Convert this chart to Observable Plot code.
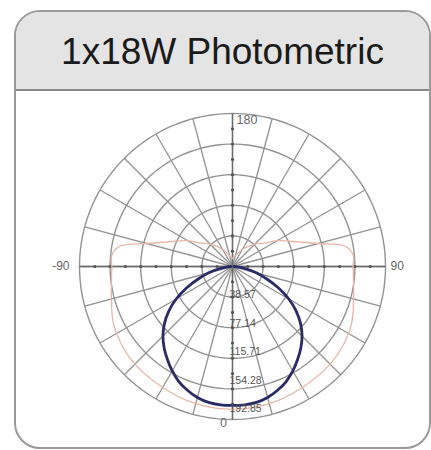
<!DOCTYPE html>
<html>
<head>
<meta charset="utf-8">
<script src="https://cdn.jsdelivr.net/npm/d3@7"></script>
<script src="https://cdn.jsdelivr.net/npm/@observablehq/plot@0.6"></script>
<style>
  html, body { margin: 0; padding: 0; background: #fff; }
  #wrap { position: relative; width: 431px; height: 450px; overflow: hidden; font-family: "Liberation Sans", Arial, sans-serif; }
  #card { position: absolute; left: 14px; top: 10px; width: 413px; height: 435px; border: 2px solid #9a9a9a; border-radius: 26px; background: #fff; overflow: hidden; }
  #head { position: absolute; left: 0; top: 0; right: 0; height: 77px; background: #e4e4e4; border-bottom: 2px solid #8a8a8a; }
  #title { position: absolute; left: 0; right: 0; top: 19px; text-align: center; font-size: 37px; color: #1a1a1a; }
  #plot { position: absolute; left: 0; top: 0; }
</style>
</head>
<body>
<div id="wrap">
  <div id="card"><div id="head"><div id="title">1x18W Photometric</div></div></div>
  <div id="plot"></div>
</div>
<script>
// ---- data ----
const ringValues = [38.57, 77.14, 115.71, 154.28, 192.85];
const ringLabels = ["38.57", "77.14", "115.71", "154.28", "192.85"];
const spokeAngles = [0, 15, 30, 45, 60, 75, 90, 105, 120, 135, 150, 165, 180, 195, 210, 225, 240, 255, 270, 285, 300, 315, 330, 345];
const angleLabels = ["0", "90", "180", "-90"];

// C0-C180 plane (dark blue), angle from nadir (deg) and intensity (cd/klm)
const blueAngles = [0, 5, 10, 15, 20, 25, 30, 35, 40, 45, 50, 55, 60, 65, 70, 75, 80, 85, 90];
const blueValues = [175, 175, 174, 171, 166, 160, 152, 143, 134, 124, 112, 98, 82, 64, 46, 31, 18, 8, 2];

// C90-C270 plane (light red)
const redAngles = [0, 15, 30, 45, 55, 65, 75, 85, 90, 95, 100, 105, 110, 120, 126, 135, 150, 165, 180];
const redValues = [180, 179, 176, 174, 171, 166, 158, 153, 152, 153, 145, 112, 90, 65, 50, 40, 25, 14, 10];

// ---- build geometry through polar -> cartesian transform ----
const RMAX = ringValues[ringValues.length - 1];
const rad = (a) => a * Math.PI / 180;
const P = (a, v) => ({x: v * Math.sin(rad(a)), y: -v * Math.cos(rad(a))});

const ringPts = ringValues.flatMap((v, i) => d3.range(0, 361, 2).map(a => ({...P(a, v), ring: i})));
const spokes = spokeAngles.map(a => ({x1: 0, y1: 0, x2: P(a, RMAX).x, y2: P(a, RMAX).y}));

function mirrored(angles, values) {
  const right = angles.map((a, i) => P(a, values[i]));
  const left = angles.slice(1).map((a, i) => P(-a, values[i + 1])).reverse();
  return [...left, ...right];
}
const bluePts = mirrored(blueAngles, blueValues);
const redPts = mirrored(redAngles, redValues);

const tickPts = d3.range(1, 10).flatMap(k => {
  const v = k * RMAX / 10;
  return [P(0, v), P(90, v), P(180, v), P(270, v)];
});

const labelPos = [P(0, RMAX), P(90, RMAX), P(180, RMAX), P(270, RMAX)];
const ringLabelData = ringValues.map((v, i) => ({...P(0, v * 0.93), label: ringLabels[i]}));

const chart = Plot.plot({
  width: 431,
  height: 450,
  marginLeft: 79,
  marginRight: 46,
  marginTop: 113,
  marginBottom: 31,
  x: {domain: [-RMAX, RMAX], axis: null},
  y: {domain: [-RMAX, RMAX], axis: null},
  style: {background: "transparent", fontFamily: "Liberation Sans, Arial, sans-serif"},
  marks: [
    Plot.line(ringPts, {x: "x", y: "y", z: "ring", stroke: "#939393", strokeWidth: 1.4}),
    Plot.link(spokes, {x1: "x1", y1: "y1", x2: "x2", y2: "y2", stroke: "#939393", strokeWidth: 1.3}),
    Plot.link([{x1: -RMAX, y1: 0, x2: RMAX, y2: 0}, {x1: 0, y1: -RMAX, x2: 0, y2: RMAX}], {x1: "x1", y1: "y1", x2: "x2", y2: "y2", stroke: "#6a6a6a", strokeWidth: 1.4}),
    Plot.dot(tickPts, {x: "x", y: "y", r: 1.6, fill: "#555", stroke: null}),
    Plot.line(redPts, {x: "x", y: "y", stroke: "#e8b6a8", strokeWidth: 1.3, curve: "catmull-rom"}),
    Plot.line(bluePts, {x: "x", y: "y", stroke: "#2a2a66", strokeWidth: 2.8, curve: "catmull-rom"}),
    Plot.text(ringLabelData, {x: "x", y: "y", text: "label", textAnchor: "start", dx: -3, fontSize: 10.5, fill: "#555"}),
    Plot.text([labelPos[0]], {x: "x", y: "y", text: [angleLabels[0]], dx: -9, dy: 4, fontSize: 12, fill: "#666"}),
    Plot.text([labelPos[1]], {x: "x", y: "y", text: [angleLabels[1]], textAnchor: "start", dx: 5, fontSize: 12, fill: "#666"}),
    Plot.text([labelPos[2]], {x: "x", y: "y", text: [angleLabels[2]], textAnchor: "start", dx: 4, dy: 6, fontSize: 12.5, fill: "#666"}),
    Plot.text([labelPos[3]], {x: "x", y: "y", text: [angleLabels[3]], textAnchor: "end", dx: -10, fontSize: 12, fill: "#666"})
  ]
});
document.getElementById("plot").appendChild(chart);
</script>
</body>
</html>
